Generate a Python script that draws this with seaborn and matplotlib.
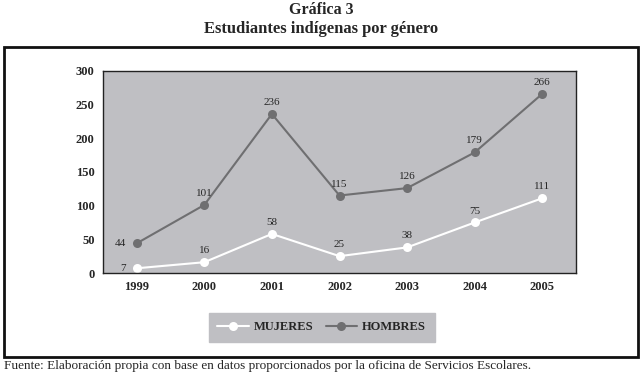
import numpy as np
import pandas as pd
import seaborn as sns
import matplotlib.pyplot as plt
from matplotlib.patches import Rectangle
from matplotlib.lines import Line2D

# datos
years = ['1999', '2000', '2001', '2002', '2003', '2004', '2005']
mujeres = [7, 16, 58, 25, 38, 75, 111]
hombres = [44, 101, 236, 115, 126, 179, 266]

df = pd.DataFrame({
    'year': years * 2,
    'value': mujeres + hombres,
    'serie': ['MUJERES'] * len(years) + ['HOMBRES'] * len(years),
})

sns.set_style('white')
plt.rcParams['font.family'] = ['Liberation Serif', 'DejaVu Serif']

bg = '#bfbfc3'
gris = '#6f6f71'

fig = plt.figure(figsize=(6.43, 3.75), dpi=100)
ax = fig.add_axes([0.160, 0.272, 0.736, 0.539])
ax.set_facecolor(bg)

sns.lineplot(data=df, x='year', y='value', hue='serie', sort=False,
             palette={'MUJERES': 'white', 'HOMBRES': gris},
             marker='o', markersize=6.5, markeredgewidth=0, linewidth=1.5,
             legend=False, ax=ax)

ax.set_xlim(-0.5, len(years) - 0.5)
ax.set_ylim(0, 300)
ax.set_yticks(range(0, 301, 50))
ax.set_xlabel('')
ax.set_ylabel('')
ax.tick_params(axis='both', which='major', length=0, labelsize=9, pad=6)
for lab in ax.get_xticklabels() + ax.get_yticklabels():
    lab.set_fontweight('bold')
ax.set_xticks(np.arange(0.5, len(years) - 1, 1), minor=True)
ax.tick_params(axis='x', which='minor', length=4, width=0.8, direction='out', color='black')
for s in ax.spines.values():
    s.set_color('#222222')
    s.set_linewidth(1.0)

# etiquetas de valores
for serie in (hombres, mujeres):
    for i, v in enumerate(serie):
        if i == 0:
            ax.annotate(str(v), (i, v), xytext=(-8, 0), textcoords='offset points',
                        ha='right', va='center', fontsize=8)
        else:
            ax.annotate(str(v), (i, v), xytext=(0, 5), textcoords='offset points',
                        ha='center', va='bottom', fontsize=8)

# leyenda
handles = [
    Line2D([], [], color='white', marker='o', markersize=6.5, markeredgewidth=0, linewidth=1.5),
    Line2D([], [], color=gris, marker='o', markersize=6.5, markeredgewidth=0, linewidth=1.5),
]
leg = fig.legend(handles, ['MUJERES', 'HOMBRES'], loc='center', bbox_to_anchor=(0.5, 0.127),
                 ncol=2, frameon=True, fancybox=False, handlelength=2.5, columnspacing=1.0,
                 handletextpad=0.4, borderpad=0.7, borderaxespad=0,
                 prop={'weight': 'bold', 'size': 9})
leg.get_frame().set_facecolor(bg)
leg.get_frame().set_edgecolor(bg)
leg.get_frame().set_alpha(1)

# marco exterior
fig.patches.append(Rectangle((0.006, 0.048), 0.986, 0.827, transform=fig.transFigure,
                             fill=False, edgecolor='#111111', linewidth=2.0))

# títulos
fig.text(0.5, 0.974, 'Gráfica 3', ha='center', va='center', fontsize=11.5, fontweight='bold')
fig.text(0.5, 0.923, 'Estudiantes indígenas por género', ha='center', va='center',
         fontsize=12, fontweight='bold')
fig.text(0.006, 0.024, 'Fuente: Elaboración propia con base en datos proporcionados por la oficina de Servicios Escolares.',
         ha='left', va='center', fontsize=9.5)

fig.savefig('out.png', dpi=100)
